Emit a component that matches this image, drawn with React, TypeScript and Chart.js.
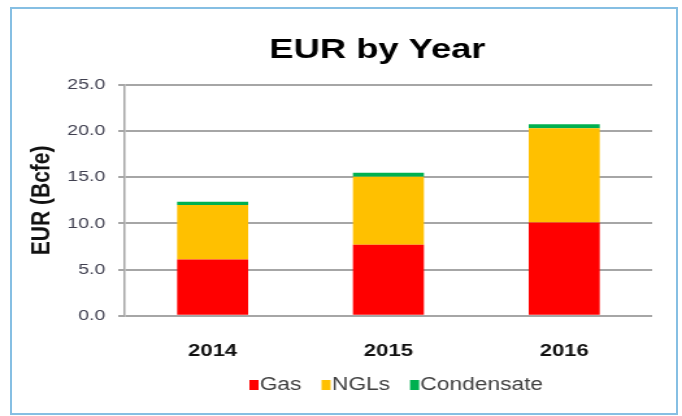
import { useEffect, useRef } from "react";
import { Chart, registerables } from "chart.js";

Chart.register(...registerables);

// ---- data ----
const years = ["2014", "2015", "2016"];
const gas = [6.1, 7.7, 10.1];
const ngls = [5.9, 7.35, 10.2];
const condensate = [0.35, 0.45, 0.45];
const seriesNames = ["Gas", "NGLs", "Condensate"];
const seriesColors = ["#ff0000", "#ffc000", "#00b050"];
const chartTitle = "EUR by Year";
const yAxisTitle = "EUR (Bcfe)";
const yMin = 0;
const yMax = 25;
const yStep = 5;

// ---- layout ----
const CANVAS_W = 525;
const CANVAS_H = 416;
const STRETCH = 682 / CANVAS_W;
const FONT = '"Liberation Sans", Arial, Helvetica, sans-serif';

const titleLegendPlugin = {
  id: "titleLegend",
  afterDraw(chart: any) {
    const ctx = chart.ctx as CanvasRenderingContext2D;
    ctx.save();
    // title
    ctx.fillStyle = "#000000";
    ctx.font = `bold 28px ${FONT}`;
    ctx.textAlign = "center";
    ctx.textBaseline = "alphabetic";
    ctx.fillText(chartTitle, 290.5, 58);

    // legend
    ctx.font = `17.5px ${FONT}`;
    const boxW = 7;
    const boxH = 10;
    const boxGap = 1;
    const itemGap = 15.4;
    const items = chart.data.datasets.map((d: any) => ({
      text: d.label as string,
      color: d.backgroundColor as string,
      w: ctx.measureText(d.label).width,
    }));
    const total =
      items.reduce((s: number, it: any) => s + boxW + boxGap + it.w, 0) +
      itemGap * (items.length - 1);
    let x = 305 - total / 2;
    const cy = 385;
    ctx.textAlign = "left";
    ctx.textBaseline = "middle";
    items.forEach((it: any) => {
      ctx.fillStyle = it.color;
      ctx.fillRect(x, cy - boxH / 2, boxW, boxH);
      x += boxW + boxGap;
      ctx.fillStyle = "#404040";
      ctx.fillText(it.text, x, cy);
      x += it.w + itemGap;
    });
    ctx.restore();
  },
};

export default function App() {
  const ref = useRef<HTMLCanvasElement>(null);

  useEffect(() => {
    if (!ref.current) return;
    const values = [gas, ngls, condensate];
    const chart = new Chart(ref.current, {
      type: "bar",
      data: {
        labels: years,
        datasets: seriesNames.map((name, i) => ({
          label: name,
          data: values[i],
          backgroundColor: seriesColors[i],
          borderWidth: 0,
          categoryPercentage: 1,
          barPercentage: 0.404,
        })),
      },
      options: {
        responsive: false,
        animation: false,
        layout: {
          padding: { left: 16, right: 23, top: 85, bottom: 416 - 315.7 - 60 },
        },
        plugins: {
          legend: { display: false },
          title: { display: false },
          tooltip: { enabled: false },
        },
        scales: {
          x: {
            stacked: true,
            grid: { display: false },
            border: { display: false },
            ticks: {
              color: "#111111",
              font: { family: FONT, size: 17, weight: "bold" },
              padding: 17,
            },
            afterFit: (s: any) => {
              s.height = 60;
            },
          },
          y: {
            stacked: true,
            min: yMin,
            max: yMax,
            ticks: {
              stepSize: yStep,
              callback: (v: any) => Number(v).toFixed(1),
              color: "#404050",
              font: { family: FONT, size: 15 },
              padding: 10,
            },
            grid: { color: "#a6a6a6", lineWidth: 2, tickLength: 5 },
            border: { color: "#a6a6a6", width: 1.5 },
            title: {
              display: true,
              text: yAxisTitle,
              color: "#111111",
              font: { family: FONT, size: 21, weight: "bold" },
              padding: { top: 4, bottom: 0 },
            },
            afterFit: (s: any) => {
              s.width = 80;
            },
          },
        },
      },
      plugins: [titleLegendPlugin],
    });
    return () => chart.destroy();
  }, []);

  return (
    <div
      style={{
        position: "absolute",
        left: 0,
        top: 0,
        width: 682,
        height: 416,
        overflow: "hidden",
        background: "#ffffff",
      }}
    >
      <div
        style={{
          position: "absolute",
          left: 0,
          top: 0,
          width: CANVAS_W,
          height: CANVAS_H,
          transform: `scaleX(${STRETCH})`,
          transformOrigin: "0 0",
        }}
      >
        <canvas ref={ref} width={CANVAS_W} height={CANVAS_H} />
      </div>
      <div
        style={{
          position: "absolute",
          left: 10,
          top: 7,
          width: 668,
          height: 408,
          boxSizing: "border-box",
          border: "2px solid #86bfe3",
          pointerEvents: "none",
        }}
      />
    </div>
  );
}
